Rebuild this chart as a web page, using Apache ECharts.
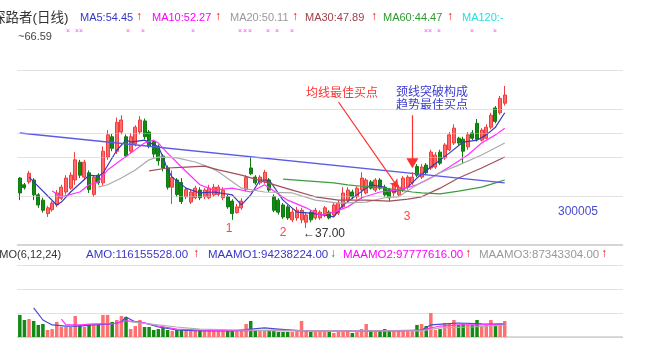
<!DOCTYPE html>
<html>
<head>
<meta charset="utf-8">
<script src="https://cdn.jsdelivr.net/npm/echarts@6/dist/echarts.min.js"></script>
<style>
  html, body { margin: 0; padding: 0; background: #fff; }
  #main { width: 656px; height: 355px; }
</style>
</head>
<body>
<div id="main"></div>
<script>
// K线 [open, close, low, high]
var kData = [
  [47.4,44.3,42.8,47.6],[46.0,45.4,45.0,46.4],[46.6,48.4,46.2,48.9],[47.0,43.9,42.8,47.4],[43.9,41.8,41.2,44.3],
  [42.8,40.7,40.2,43.3],[40.0,41.2,39.3,41.6],[40.8,42.2,40.4,42.6],[41.8,44.3,41.4,44.9],[43.2,45.5,42.8,46.0],
  [44.5,47.4,44.0,48.0],[45.3,48.0,45.0,48.6],[47.0,51.2,46.0,52.8],[50.7,48.0,47.4,51.2],[47.6,50.7,47.0,51.2],
  [48.5,45.0,44.3,49.0],[44.0,47.6,43.5,48.0],[48.0,46.4,46.0,48.4],[46.4,53.0,45.8,54.0],[51.8,56.4,51.2,57.4],
  [56.0,53.6,53.0,56.6],[53.0,59.0,52.4,60.0],[57.0,59.5,56.5,60.5],[56.0,52.0,51.6,56.5],[53.0,56.0,52.6,56.8],
  [54.5,58.0,54.0,58.4],[57.0,59.5,56.5,60.3],[59.3,56.0,55.5,59.8],[57.0,54.0,53.6,57.4],[55.0,52.4,51.6,55.3],
  [54.0,51.0,50.0,54.4],[52.0,49.5,48.8,52.4],[49.5,45.5,45.0,50.0],[45.5,47.5,42.0,49.0],[47.0,44.0,43.5,47.4],
  [46.5,42.5,42.0,47.4],[43.5,45.0,43.0,45.5],[42.4,44.5,42.0,45.0],[43.3,45.3,43.0,45.8],[44.9,43.3,42.8,45.5],
  [43.5,44.9,43.0,45.3],[43.3,45.3,43.0,46.0],[43.9,45.5,43.5,46.2],[44.0,45.5,43.6,46.0],[43.3,44.9,42.8,45.5],
  [43.5,41.4,41.0,44.0],[42.6,40.0,38.7,43.0],[40.2,41.4,40.0,42.0],[41.2,42.6,40.8,43.2],[45.0,47.5,44.6,48.0],
  [49.5,48.3,48.0,51.8],[47.6,46.4,46.0,48.0],[46.4,47.6,46.0,48.0],[46.6,48.6,46.2,49.1],[47.0,44.9,44.5,47.4],
  [43.5,40.7,40.3,44.0],[42.8,40.3,39.8,43.2],[41.8,39.3,38.9,42.2],[41.4,39.1,38.7,41.8],[38.7,40.3,38.2,41.0],
  [39.1,40.7,38.5,41.4],[38.7,40.7,38.0,41.2],[38.2,39.7,37.0,40.3],[40.3,38.7,38.2,40.7],[39.1,40.7,38.7,41.2],
  [39.1,40.3,38.7,40.7],[39.7,41.2,39.3,41.6],[40.3,39.1,38.8,40.7],[39.7,41.8,39.3,42.2],[40.1,42.2,39.7,42.8],
  [41.4,44.3,41.0,45.5],[42.8,44.9,42.4,45.5],[44.5,43.5,43.0,45.0],[43.5,45.3,43.0,45.7],[44.9,47.4,43.0,48.6],
  [44.3,47.0,44.0,47.4],[46.6,45.3,45.0,47.0],[44.9,47.0,44.5,47.4],[47.0,45.3,44.9,47.4],[45.5,43.9,43.5,46.0],
  [44.9,43.3,42.6,45.3],[44.3,46.0,43.5,46.4],[43.9,45.5,43.5,46.0],[44.9,47.4,44.5,47.8],[45.5,47.6,45.0,48.0],
  [46.4,47.6,46.0,48.6],[49.8,48.0,47.6,50.3],[47.6,49.7,47.2,50.3],[50.1,48.5,48.0,50.5],[49.5,52.8,49.1,53.3],
  [49.7,52.2,49.3,52.8],[52.8,50.5,50.1,53.3],[51.6,54.3,51.2,54.7],[53.3,56.4,53.0,57.0],[54.7,57.8,54.3,58.6],
  [55.7,54.7,54.3,56.0],[55.5,53.0,50.5,56.0],[53.9,56.4,53.3,57.0],[56.8,55.7,55.3,57.4],[58.8,55.5,55.0,59.7],
  [55.3,57.4,55.0,57.8],[55.7,58.0,55.5,58.6],[58.0,60.5,57.6,61.0],[62.0,59.2,58.8,62.4],[61.0,64.0,60.6,64.5],
  [63.0,64.7,62.5,66.59]
];

// 成交额(百万)
var amount = [
  161,124,131,117,88,95,51,58,110,73, 73,73,153,88,73,95,88,88,161,161,
  110,124,153,146,58,80,124,73,73,51, 58,73,51,44,51,51,58,44,44,51,
  44,51,44,44,44,44,51,51,51,95, 117,51,44,51,51,51,37,37,37,37,
  44,117,44,37,37,37,37,37,29,37, 37,44,29,37,58,95,51,51,51,58,
  51,51,51,44,51,51,88,95,80,175, 51,58,102,102,124,88,95,88,88,124,
  80,95,124,95,102,117
];

// 均线 [日序号, 值]
var ma5 = [[2,47.6],[8,41.8],[9,42.4],[11,44.5],[15,48.0],[17,47.8],[18,48.4],[21,53.2],[23,55.3],[24,54.9],[27,55.3],[30,53.9],[31,51.8],[32,49.1],[33,47.6],[36,45.3],[39,44.3],[42,44.5],[46,43.9],[48,41.8],[50,43.9],[52,47.0],[54,47.0],[57,42.8],[60,40.3],[63,40.1],[66,39.7],[68,39.3],[70,41.8],[73,43.9],[76,46.0],[79,45.5],[81,44.5],[84,45.5],[86,47.4],[89,49.7],[93,52.6],[96,54.9],[99,55.3],[101,56.4],[103,58.0],[105,61.0]];
var ma10 = [[7,44.7],[9,43.5],[13,44.5],[15,46.0],[17,46.6],[19,49.1],[22,51.2],[24,52.6],[27,54.7],[29,55.3],[30,54.7],[32,52.6],[35,49.7],[39,46.0],[42,44.9],[46,45.3],[50,44.5],[53,46.0],[58,42.8],[62,41.2],[65,39.7],[68,40.3],[71,41.4],[74,43.3],[78,44.5],[82,44.9],[86,46.0],[89,47.4],[93,49.7],[97,52.2],[100,54.7],[103,56.4],[105,57.8]];
var ma20 = [[17,45.5],[19,46.0],[22,47.4],[25,49.1],[28,51.2],[30,51.8],[34,51.6],[38,50.75],[41,49.7],[43,48.7],[48,45.3],[53,44.5],[59,44.3],[64,42.8],[69,42.2],[75,42.4],[79,43.3],[82,43.5],[86,46.0],[91,48.5],[95,50.1],[100,52.2],[105,54.7]];
var ma30 = [[28,48.9],[32,49.5],[36,49.7],[40,49.9],[43,49.1],[48,48.0],[53,46.6],[59,44.9],[64,43.5],[69,42.8],[75,42.8],[80,42.6],[84,43.0],[87,43.5],[91,45.3],[95,47.4],[100,49.5],[105,51.8]];
var ma60 = [[57,47.2],[68,46.4],[71,46.0],[74,45.7],[79,45.3],[85,44.5],[87,44.3],[91,44.1],[95,44.7],[100,45.5],[103,46.4],[105,47.0]];
var neckLine = [[0,56.8],[105,46.4]];

var amo1 = [[3,212],[5,124],[7,88],[10,80],[13,80],[16,88],[20,95],[22,110],[23,146],[25,110],[27,102],[30,73],[34,51],[39,44],[46,44],[50,58],[53,66],[56,58],[61,44],[65,44],[70,44],[78,44],[83,44],[87,51],[89,88],[92,95],[95,102],[100,95],[105,94]];
var amo2 = [[9,131],[10,88],[13,88],[16,95],[20,95],[23,117],[26,110],[30,80],[34,58],[39,51],[48,44],[56,51],[65,44],[78,44],[87,51],[91,80],[95,88],[100,88],[105,98]];
var amo3 = [[24,110],[28,95],[34,73],[39,58],[48,51],[56,44],[65,44],[78,44],[87,44],[91,66],[98,73],[105,87]];

// 价格网格线
var priceLines = [69.9, 61.8, 56.8, 51.8, 43.67];

var cats = [];
for (var i = 0; i < 131; i++) cats.push('d' + i);

var volData = amount.map(function (v, i) {
  var up = kData[i][1] >= kData[i][0];
  return { value: v, itemStyle: { color: up ? '#ff7070' : '#138a13' } };
});

var FONT = 'Arial, "Liberation Sans", "Noto Sans CJK SC", sans-serif';
function txt(x, y, s, color, size, align) {
  return {
    type: 'text', x: x, y: y, silent: true,
    style: { text: s, fill: color, font: (size || 11) + 'px ' + FONT,
      align: align || 'left', verticalAlign: 'middle',
      textAlign: align || 'left', textVerticalAlign: 'middle' }
  };
}

var graphics = [
  txt(-8, 18, '探路者(日线)', '#333', 13.5),
  txt(80, 18, 'MA5:54.45', '#3838c8', 11), txt(136, 17, '↑', '#ff0000', 12),
  txt(152, 18, 'MA10:52.27', '#ff00ff', 11), txt(215, 17, '↑', '#ff0000', 12),
  txt(230, 18, 'MA20:50.11', '#999999', 11), txt(292, 17, '↑', '#ff0000', 12),
  txt(305, 18, 'MA30:47.89', '#a0404a', 11), txt(371, 17, '↑', '#ff0000', 12),
  txt(383, 18, 'MA60:44.47', '#2f9a2f', 11), txt(447, 17, '↑', '#ff0000', 12),
  txt(462, 18, 'MA120:-', '#22e0e0', 11),
  txt(18, 37, '~66.59', '#444', 11),
  txt(-8, 255, 'AMO(6,12,24)', '#333', 11),
  txt(86, 255, 'AMO:116155528.00', '#3838c8', 11.5), txt(193, 254, '↑', '#ff0000', 12),
  txt(208, 255, 'MAAMO1:94238224.00', '#3838c8', 11.5), txt(330, 254, '↓', '#1a9a1a', 12),
  txt(343, 255, 'MAAMO2:97777616.00', '#ff00ff', 11.5), txt(465, 254, '↑', '#ff0000', 12),
  txt(479, 255, 'MAAMO3:87343304.00', '#999999', 11.5), txt(601, 254, '↑', '#ff0000', 12),
  txt(342, 94, '均线最佳买点', '#ff3333', 12, 'center'),
  txt(432, 93, '颈线突破构成', '#3a3ad0', 12, 'center'),
  txt(432, 106, '趋势最佳买点', '#3a3ad0', 12, 'center'),
  txt(229, 229, '1', '#ff4444', 12, 'center'),
  txt(283, 233, '2', '#ff4444', 12, 'center'),
  txt(407, 217, '3', '#ff4444', 12, 'center'),
  txt(303, 234, '←37.00', '#333', 12),
  txt(578, 212, '300005', '#4a4acc', 12, 'center')
];
// 标题下的小叉
[68, 77, 81, 128, 143, 193, 240, 245, 250, 268, 277, 292, 426, 430, 439, 472, 495].forEach(function (x) {
  graphics.push(txt(x, 31, '×', '#ff44ff', 7, 'center'));
});

function maSeries(name, data, color, xi, yi) {
  return {
    name: name, type: 'line', data: data, xAxisIndex: xi || 0, yAxisIndex: yi || 0,
    showSymbol: false, symbol: 'none', smooth: false, silent: true,
    lineStyle: { color: color, width: 1.2 }, z: 3
  };
}

var chart = echarts.init(document.getElementById('main'), null, { renderer: 'canvas' });
chart.setOption({
  animation: false,
  backgroundColor: '#fff',
  grid: [
    { left: 17.5, width: 605, top: 50, height: 195 },
    { left: 17.5, width: 605, top: 265, height: 72 }
  ],
  xAxis: [
    { type: 'category', data: cats, gridIndex: 0, boundaryGap: true,
      axisLine: { lineStyle: { color: '#c8c8c8', width: 1.5 } }, axisTick: { show: false }, axisLabel: { show: false } },
    { type: 'category', data: cats, gridIndex: 1, boundaryGap: true,
      axisLine: { lineStyle: { color: '#d0d0d0', width: 1.5 } }, axisTick: { show: false }, axisLabel: { show: false } }
  ],
  yAxis: [
    { type: 'value', gridIndex: 0, min: 33.458, max: 74.08, scale: true,
      axisLine: { show: false }, axisTick: { show: false }, axisLabel: { show: false }, splitLine: { show: false } },
    { type: 'value', gridIndex: 1, min: 0, max: 525, interval: 175,
      axisLine: { show: false }, axisTick: { show: false }, axisLabel: { show: false },
      splitLine: { show: true, lineStyle: { color: '#c4c4c4', type: 'dotted' } } }
  ],
  graphic: graphics,
  series: [
    {
      name: 'K', type: 'candlestick', data: kData, barWidth: 3.5, silent: true, z: 2,
      itemStyle: { color: '#ff6a6a', borderColor: '#f03c3c', color0: '#138a13', borderColor0: '#0f7a0f', borderWidth: 1 },
      markLine: {
        silent: true, symbol: 'none', label: { show: false },
        lineStyle: { color: '#c4c4c4', type: 'dotted', width: 1 },
        data: priceLines.map(function (v) { return { yAxis: v }; })
      }
    },
    maSeries('MA5', ma5, '#3a3ab8'),
    maSeries('MA10', ma10, '#ff33ff'),
    maSeries('MA20', ma20, '#aaaaaa'),
    maSeries('MA30', ma30, '#a05058'),
    maSeries('MA60', ma60, '#3c9c3c'),
    {
      name: 'neck', type: 'line', data: neckLine, showSymbol: false, symbol: 'none', silent: true,
      lineStyle: { color: '#5a5ae6', width: 1.5 }, z: 3,
      markLine: {
        silent: true, label: { show: false },
        data: [
          [{ coord: [69, 63.25], symbol: 'none' },
           { coord: [82, 45.3], symbol: 'arrow', symbolSize: [7, 9] }],
          [{ coord: [85, 60.5], symbol: 'none' },
           { coord: [85, 50.5], symbol: 'triangle', symbolSize: [12, 10], symbolRotate: 180 }]
        ],
        lineStyle: { color: '#ff3030', type: 'solid', width: 1.2 }
      }
    },
    {
      name: 'AMO', type: 'bar', data: volData, xAxisIndex: 1, yAxisIndex: 1, barWidth: 3.5, silent: true
    },
    maSeries('MAAMO1', amo1, '#4a4ad0', 1, 1),
    maSeries('MAAMO2', amo2, '#ff33ff', 1, 1),
    maSeries('MAAMO3', amo3, '#b0b0b0', 1, 1)
  ]
});
</script>
</body>
</html>
